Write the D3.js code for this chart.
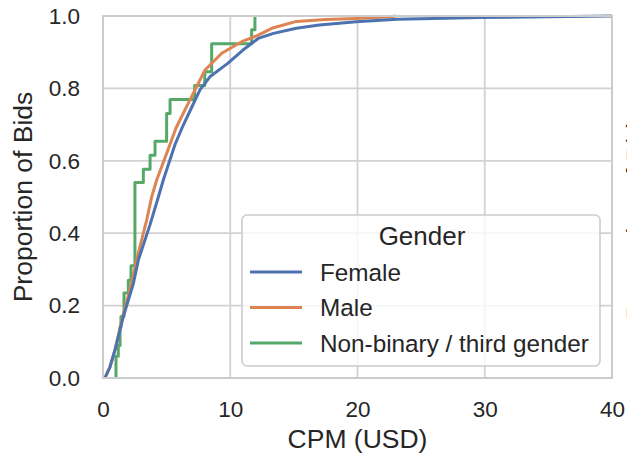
<!DOCTYPE html>
<meta charset="utf-8">
<script src="https://d3js.org/d3.v7.min.js"></script>
<style>
  body { margin: 0; background: #fff; }
  text { font-family: "Liberation Sans", Arial, sans-serif; fill: #262626; }
</style>
<body>
<div id="canvas"></div>
<script>
// ECDF points (CPM in USD, proportion of bids)
var femaleCpm  = [0.15, 0.55, 0.94, 1.6, 2.38, 2.78, 3.69, 4.35, 4.74, 5.66, 6.2, 7.0, 7.62, 8.4, 9.8, 11.0, 12.2, 13.4, 15.2, 17.0, 19.9, 23.1, 26.0, 29.6, 35.0, 40.5];
var femaleProp = [0.0, 0.031, 0.077, 0.17, 0.26, 0.326, 0.423, 0.50, 0.547, 0.645, 0.69, 0.75, 0.796, 0.832, 0.869, 0.906, 0.938, 0.952, 0.966, 0.975, 0.984, 0.991, 0.993, 0.996, 0.998, 1.0];

var maleCpm  = [0.15, 0.55, 0.94, 1.55, 2.3, 2.64, 3.43, 3.83, 4.22, 5.0, 5.73, 6.5, 7.23, 8.02, 9.33, 10.9, 12.2, 13.26, 15.2, 17.5, 19.9, 22.6, 23.0];
var maleProp = [0.0, 0.031, 0.077, 0.17, 0.27, 0.326, 0.436, 0.501, 0.547, 0.62, 0.69, 0.745, 0.796, 0.851, 0.897, 0.929, 0.947, 0.966, 0.985, 0.99, 0.993, 0.998, 1.0];

// non-binary is a step ECDF: x where each step happens, level after the step
var nbCpm  = [1.02, 1.2, 1.34, 1.41, 1.65, 1.99, 2.2, 2.51, 3.17, 3.7, 4.09, 5.0, 5.27, 7.2, 8.0, 8.54, 11.68, 11.94];
var nbProp = [0.06, 0.09, 0.14, 0.17, 0.235, 0.27, 0.31, 0.54, 0.577, 0.615, 0.654, 0.731, 0.769, 0.808, 0.846, 0.923, 0.962, 1.0];

var genders = ["Female", "Male", "Non-binary / third gender"];
var colors  = ["#4c72b0", "#dd8452", "#55a868"];
var xTicks  = [0, 10, 20, 30, 40];
var yTicks  = [0.0, 0.2, 0.4, 0.6, 0.8, 1.0];

var width = 627, height = 458;
var margin = {top: 16, right: 15, bottom: 80, left: 103};
var w = width - margin.left - margin.right;
var h = height - margin.top - margin.bottom;

var svg = d3.select("#canvas").append("svg")
    .attr("width", width).attr("height", height);

var g = svg.append("g")
    .attr("transform", "translate(" + margin.left + "," + margin.top + ")");

var x = d3.scaleLinear().domain([0, 40]).range([0, w]);
var y = d3.scaleLinear().domain([0, 1]).range([h, 0]);

// grid
g.append("g").selectAll("line").data(xTicks).enter().append("line")
    .attr("x1", d => x(d)).attr("x2", d => x(d))
    .attr("y1", 0).attr("y2", h)
    .attr("stroke", "#d2d2d2").attr("stroke-width", 1.8);
g.append("g").selectAll("line").data(yTicks).enter().append("line")
    .attr("x1", 0).attr("x2", w)
    .attr("y1", d => y(d)).attr("y2", d => y(d))
    .attr("stroke", "#d2d2d2").attr("stroke-width", 1.8);

// axes (labels only)
var xAxis = d3.axisBottom(x).tickValues(xTicks).tickSize(0).tickPadding(23).tickFormat(d3.format("d"));
var gx = g.append("g").attr("transform", "translate(0," + h + ")").call(xAxis);
var yAxis = d3.axisLeft(y).tickValues(yTicks).tickSize(0).tickPadding(23).tickFormat(d3.format(".1f"));
var gy = g.append("g").call(yAxis);
[gx, gy].forEach(function(a) {
  a.select(".domain").remove();
  a.selectAll("text").style("font-size", "22.5px").style("font-family", '"Liberation Sans", Arial, sans-serif').attr("fill", "#262626");
});

// lines
g.append("clipPath").attr("id", "clip").append("rect")
    .attr("x", -2).attr("y", -2).attr("width", w + 2).attr("height", h + 4);

var line = d3.line().x(d => x(d[0])).y(d => y(d[1]));
var stepLine = d3.line().x(d => x(d[0])).y(d => y(d[1])).curve(d3.curveStepAfter);

var series = [
  d3.zip(femaleCpm, femaleProp),
  d3.zip(maleCpm, maleProp),
  [[nbCpm[0], 0]].concat(d3.zip(nbCpm, nbProp))
];

var lines = g.append("g").attr("clip-path", "url(#clip)");
// seaborn draws the last hue level first
[2, 1, 0].forEach(function(i) {
  lines.append("path")
      .attr("d", (i == 2 ? stepLine : line)(series[i]))
      .attr("fill", "none")
      .attr("stroke", colors[i])
      .attr("stroke-width", 3)
      .attr("stroke-linejoin", "round");
});

// frame
g.append("rect").attr("width", w).attr("height", h)
    .attr("fill", "none").attr("stroke", "#cccccc").attr("stroke-width", 2);

// axis titles
svg.append("text")
    .attr("x", margin.left + w / 2).attr("y", 448)
    .attr("text-anchor", "middle").style("font-size", "26.5px")
    .text("CPM (USD)");
svg.append("text")
    .attr("transform", "translate(32," + (margin.top + h / 2) + ") rotate(-90)")
    .attr("text-anchor", "middle").style("font-size", "26.5px")
    .text("Proportion of Bids");

// bit of the neighbouring panel's label, cut off at the edge
svg.append("text")
    .attr("transform", "translate(645,215) rotate(-90)")
    .attr("text-anchor", "middle").style("font-size", "26.5px")
    .text("Proportion of Bids");

// legend
var leg = svg.append("g").attr("transform", "translate(242,215)");
leg.append("rect")
    .attr("width", 358).attr("height", 151).attr("rx", 5)
    .attr("fill", "#fff").attr("fill-opacity", 0.8)
    .attr("stroke", "#cccccc").attr("stroke-width", 1.6);
leg.append("text")
    .attr("x", 180).attr("y", 30).attr("text-anchor", "middle")
    .style("font-size", "26px").text("Gender");
var item = leg.selectAll(".item").data(genders).enter().append("g")
    .attr("transform", (d, i) => "translate(0," + (57 + i * 35.5) + ")");
item.append("line")
    .attr("x1", 8).attr("x2", 60)
    .attr("stroke", (d, i) => colors[i]).attr("stroke-width", 3);
item.append("text")
    .attr("x", 78).attr("y", 8.5)
    .style("font-size", "24.3px").text(d => d);
</script>
</body>
